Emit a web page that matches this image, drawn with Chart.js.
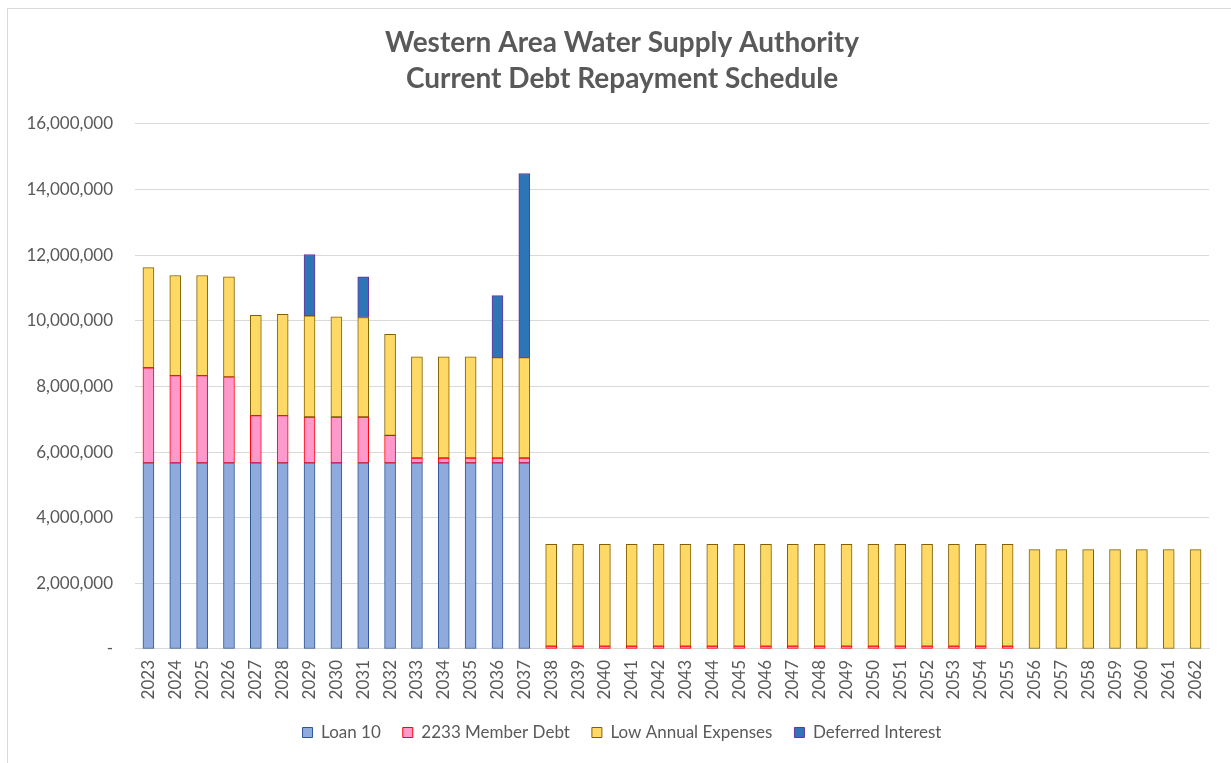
<!DOCTYPE html>
<html>
<head>
<meta charset="utf-8">
<script src="https://cdn.jsdelivr.net/npm/chart.js@4.4.1/dist/chart.umd.min.js"></script>
<style>
  html, body { margin: 0; padding: 0; background: #fff; }
  #wrap { position: relative; width: 1231px; height: 763px; overflow: hidden; }
  #frame { position: absolute; left: 7px; top: 8px; width: 1400px; height: 900px; border: 1px solid #D9D9D9; box-sizing: border-box; }
  canvas { position: absolute; left: 0; top: 0; }
</style>
</head>
<body>
<div id="wrap">
  <div id="frame"></div>
  <canvas id="c" width="1231" height="763"></canvas>
</div>
<script>
const years = [];
for (let y = 2023; y <= 2062; y++) years.push(String(y));

const loan10 = [5670000,5670000,5670000,5670000,5670000,5670000,5670000,5670000,5670000,5670000,
  5670000,5670000,5670000,5670000,5670000,
  null,null,null,null,null,null,null,null,null,null,null,null,null,null,null,null,null,null,null,null,null,null,null,null,null];

const memberDebt = [2900000,2660000,2660000,2620000,1440000,1440000,1400000,1400000,1400000,840000,
  150000,150000,150000,150000,150000,
  90000,90000,90000,90000,90000,90000,90000,90000,90000,90000,90000,90000,90000,90000,90000,90000,90000,90000,
  null,null,null,null,null,null,null];

const lowAnnual = [3050000,3050000,3050000,3050000,3060000,3090000,3080000,3050000,3030000,3080000,
  3080000,3080000,3080000,3060000,3060000,
  3100000,3100000,3100000,3100000,3100000,3100000,3100000,3100000,3100000,3100000,3100000,3100000,3100000,3100000,3100000,3100000,3100000,3100000,
  3030000,3030000,3030000,3030000,3030000,3030000,3030000];

const deferred = [null,null,null,null,null,null,1870000,null,1240000,null,
  null,null,null,1890000,5610000,
  null,null,null,null,null,null,null,null,null,null,null,null,null,null,null,null,null,null,null,null,null,null,null,null,null];

const yTicks = [0,2000000,4000000,6000000,8000000,10000000,12000000,14000000,16000000];

const FONT = 'Lato, "Open Sans", sans-serif';
const TXT = '#595959';

const ds = (label, data, bg, bd) => ({
  label, data, backgroundColor: bg, borderColor: bd, borderWidth: 1,
  barThickness: 11, borderSkipped: false, yAxisID: 'y'
});

new Chart(document.getElementById('c'), {
  type: 'bar',
  data: {
    labels: years,
    datasets: [
      ds('Loan 10', loan10, '#8FAADC', '#2F5597'),
      ds('2233 Member Debt', memberDebt, '#FF99CC', '#FF0000'),
      ds('Low Annual Expenses', lowAnnual, '#FFD966', '#806000'),
      ds('Deferred Interest', deferred, '#2E75B6', '#7030A0')
    ]
  },
  options: {
    responsive: false,
    animation: false,
    layout: { padding: { left: 13, right: 0, top: 0, bottom: 12 } },
    plugins: {
      title: {
        display: true,
        text: ['Western Area Water Supply Authority', 'Current Debt Repayment Schedule'],
        color: TXT,
        font: { family: FONT, size: 28, weight: 'bold', lineHeight: 1.32 },
        padding: { top: 24, bottom: 26 }
      },
      legend: {
        position: 'bottom',
        labels: {
          color: TXT,
          font: { family: FONT, size: 17 },
          boxWidth: 10, boxHeight: 10,
          padding: 22
        }
      },
      tooltip: { enabled: false }
    },
    scales: {
      x: {
        stacked: true,
        grid: { display: false, drawTicks: false },
        border: { color: '#D9D9D9', width: 1 },
        ticks: { color: TXT, font: { family: FONT, size: 17 }, minRotation: 90, maxRotation: 90, padding: 11, autoSkip: false },
        afterFit: s => { s.height = 53; }
      },
      y: {
        stacked: true,
        min: 0, max: 16000000,
        grid: { color: '#D9D9D9', drawTicks: false },
        border: { display: false },
        afterBuildTicks: s => { s.ticks = yTicks.map(v => ({ value: v })); },
        ticks: {
          color: TXT, font: { family: FONT, size: 17 }, padding: 22,
          callback: v => v === 0 ? '-' : v.toLocaleString('en-US')
        },
        afterFit: s => { s.width = 122; }
      },
      yRight: {
        type: 'linear',
        position: 'right',
        display: true,
        grid: { display: false, drawOnChartArea: false, drawTicks: false },
        border: { display: false },
        ticks: { display: false },
        afterFit: s => { s.width = 22; }
      }
    }
  }
});
</script>
</body>
</html>
